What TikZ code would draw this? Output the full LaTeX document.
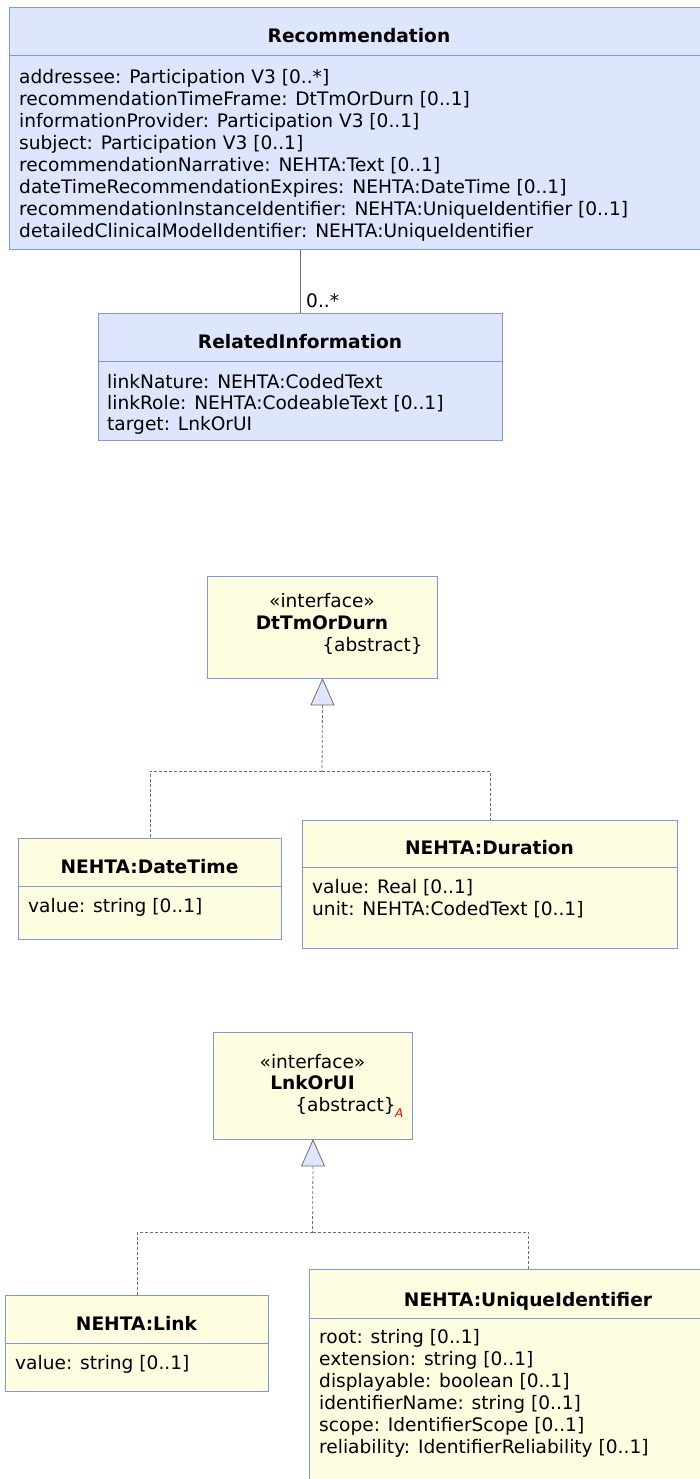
\documentclass[tikz,border=0pt]{standalone}
\usepackage{fontspec}
\setmainfont{DejaVu Sans}
\usetikzlibrary{calc}
\definecolor{clsblue}{RGB}{221,230,252}
\definecolor{clsyel}{RGB}{255,253,224}
\definecolor{bord}{RGB}{128,150,222}
\definecolor{conn}{RGB}{110,110,110}
\newcommand\attrfont{\fontsize{18.6}{22}\selectfont}
\newcommand\relfont{\fontsize{18.6}{21}\selectfont}
\newcommand\ttlfont{\fontsize{18.6}{22}\selectfont\bfseries}
\newcommand\fstrut{\rule{0pt}{15pt}}
\tikzset{
  umlbox/.style={draw=bord, line width=1pt, rectangle, inner sep=0pt, anchor=north west},
  bluebox/.style={umlbox, fill=clsblue},
  yelbox/.style={umlbox, fill=clsyel},
  ttl/.style={font=\ttlfont, inner sep=0pt, anchor=base},
  attr/.style={font=\attrfont, inner sep=0pt, anchor=north west, align=left},
  plain/.style={font=\attrfont, inner sep=0pt},
  divline/.style={draw=bord, line width=1pt},
  dashc/.style={draw=conn, dash pattern=on 3pt off 2pt, line width=0.8pt},
  assoc/.style={draw=conn, line width=0.8pt},
  realize/.style={draw=conn, fill=clsblue, line width=0.8pt, line join=miter}
}
\begin{document}
\begin{tikzpicture}[x=1pt,y=-1pt]
\useasboundingbox (0,0) rectangle (700,1479);
\clip (0,0) rectangle (700,1479);

% Recommendation
\node[bluebox, minimum width=700pt, minimum height=242pt] (rec) at (9,7) {};
\draw[divline] (rec.west |- 0,56) -- (rec.east |- 0,56);
\node[ttl] (recT) at (359,43) {Recommendation};
\node[attr] (recA) at (19,68) {\fstrut addressee: Participation V3 [0..*]\\
recommendationTimeFrame: DtTmOrDurn [0..1]\\
informationProvider: Participation V3 [0..1]\\
subject: Participation V3 [0..1]\\
recommendationNarrative: NEHTA:Text [0..1]\\
dateTimeRecommendationExpires: NEHTA:DateTime [0..1]\\
recommendationInstanceIdentifier: NEHTA:UniqueIdentifier [0..1]\\
detailedClinicalModelIdentifier: NEHTA:UniqueIdentifier};

% RelatedInformation
\node[bluebox, minimum width=404pt, minimum height=127pt] (rel) at (98,313) {};
\draw[divline] (rel.west |- 0,361) -- (rel.east |- 0,361);
\node[ttl] (relT) at (300,348) {RelatedInformation};
\node[attr, font=\relfont] (relA) at (107,373) {\fstrut linkNature: NEHTA:CodedText\\
linkRole: NEHTA:CodeableText [0..1]\\
target: LnkOrUI};
\draw[assoc] (rel.north) -- (rel.north |- rec.south);
\node[plain, anchor=base west] (mult) at (306,307) {0..*};

% DtTmOrDurn
\node[yelbox, minimum width=230pt, minimum height=102pt] (dt) at (207,576) {};
\node[plain, anchor=base] (dtS) at (322,607) {«interface»};
\node[ttl] (dtN) at (322,629) {DtTmOrDurn};
\node[plain, anchor=base east] (dtAb) at (423,651) {\{abstract\}};

\node[yelbox, minimum width=263pt, minimum height=101pt] (dtm) at (18,838) {};
\draw[divline] (dtm.west |- 0,886) -- (dtm.east |- 0,886);
\node[ttl] (dtmT) at (149.5,873) {NEHTA:DateTime};
\node[attr] (dtmA) at (28,897) {\fstrut value: string [0..1]};

\node[yelbox, minimum width=375pt, minimum height=128pt] (dur) at (302,820) {};
\draw[divline] (dur.west |- 0,867) -- (dur.east |- 0,867);
\node[ttl] (durT) at (489.5,854) {NEHTA:Duration};
\node[attr] (durA) at (312,878) {\fstrut value: Real [0..1]\\
unit: NEHTA:CodedText [0..1]};

\coordinate (dtB) at ($(dt.south)+(0,26)$);
\coordinate (dtJ) at (322,771);
\draw[dashc] (dtB) -- (dtJ);
\draw[dashc] (dtJ) -| (dtm.north);
\draw[dashc] (dtJ) -| (dur.north);
\draw[realize] (dt.south) -- ($(dtB)+(-11.5,0)$) -- ($(dtB)+(11.5,0)$) -- cycle;

% LnkOrUI
\node[yelbox, minimum width=199pt, minimum height=107pt] (lu) at (213,1032) {};
\node[plain, anchor=base] (luS) at (312.5,1068) {«interface»};
\node[ttl] (luN) at (312.5,1089) {LnkOrUI};
\node[plain, anchor=base east] (luAb) at (396,1111) {\{abstract\}};
\node[font=\fontsize{12}{12}\selectfont\itshape, text=red, inner sep=0pt, anchor=base west] (luA) at (395,1117) {A};

\node[yelbox, minimum width=263pt, minimum height=96pt] (lnk) at (5,1295) {};
\draw[divline] (lnk.west |- 0,1343) -- (lnk.east |- 0,1343);
\node[ttl] (lnkT) at (136.5,1330) {NEHTA:Link};
\node[attr] (lnkA) at (15,1354) {\fstrut value: string [0..1]};

\node[yelbox, minimum width=438pt, minimum height=260pt] (uid) at (309,1269) {};
\draw[divline] (uid.west |- 0,1318) -- (uid.east |- 0,1318);
\node[ttl] (uidT) at (528,1306) {NEHTA:UniqueIdentifier};
\node[attr] (uidA) at (319,1328) {\fstrut root: string [0..1]\\
extension: string [0..1]\\
displayable: boolean [0..1]\\
identifierName: string [0..1]\\
scope: IdentifierScope [0..1]\\
reliability: IdentifierReliability [0..1]};

\coordinate (luB) at ($(lu.south)+(0,26)$);
\coordinate (luJ) at (312.5,1232);
\draw[dashc] (luB) -- (luJ);
\draw[dashc] (luJ) -| (lnk.north);
\draw[dashc] (luJ) -| (uid.north);
\draw[realize] (lu.south) -- ($(luB)+(-11.5,0)$) -- ($(luB)+(11.5,0)$) -- cycle;
\end{tikzpicture}
\end{document}
